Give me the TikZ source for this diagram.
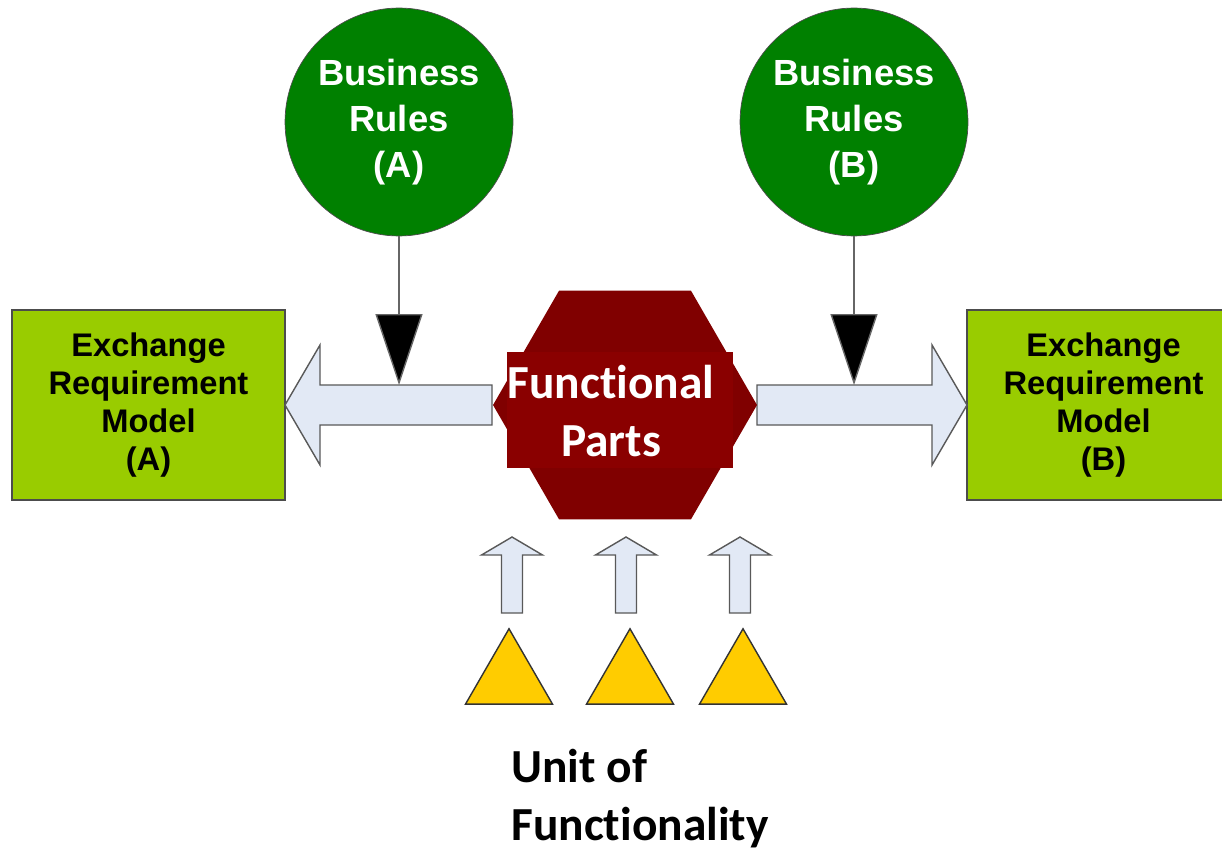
\documentclass[tikz,border=0pt]{standalone}
\usepackage{fontspec}
\setmainfont{Liberation Sans}
\newfontfamily\calibri[Ligatures=NoCommon]{Carlito}
\usetikzlibrary{shapes.geometric, arrows.meta, positioning}

\definecolor{rulegreen}{HTML}{008000}
\definecolor{ermgreen}{HTML}{99CC00}
\definecolor{fpred}{HTML}{800000}
\definecolor{fplabelred}{HTML}{8A0000}
\definecolor{arrowfill}{HTML}{E2E9F5}
\definecolor{unityellow}{HTML}{FFCC00}

\tikzset{
	rulecircle/.style={circle, draw=black!70, fill=rulegreen, text=white,
		font=\bfseries\fontsize{20.7}{26}\selectfont, align=center,
		minimum size=4.56cm, inner sep=0pt},
	ermbox/.style={rectangle, draw=black!70, line width=0.8pt, fill=ermgreen,
		font=\bfseries\fontsize{18.6}{21.5}\selectfont, align=center,
		minimum width=5.46cm, minimum height=3.8cm},
	fpart/.style={regular polygon, regular polygon sides=6, fill=fpred,
		minimum size=5.28cm, inner sep=0pt},
	fplabel/.style={rectangle, fill=fplabelred,
		minimum width=4.52cm, minimum height=2.32cm},
	fptext/.style={text=white, font=\calibri\bfseries\fontsize{27}{33}\selectfont,
		align=center, inner sep=0pt},
	unittri/.style={regular polygon, regular polygon sides=3, draw=black!80,
		line width=0.8pt, fill=unityellow, minimum size=2.01cm, inner sep=0pt},
	unitlabel/.style={font=\calibri\bfseries\fontsize{27}{33}\selectfont,
		align=left, inner sep=0pt},
	blockarrow/.style={draw=black!65, fill=arrowfill, line width=0.8pt},
	ruleline/.style={draw=black!60, line width=0.8pt,
		-{Triangle[length=1.42cm, width=0.94cm, fill=black]}},
}

\begin{document}
\begin{tikzpicture}[x=0.02cm, y=-0.02cm]
	\fill[white] (0,0) rectangle (1222,851);
	\useasboundingbox (0,0) rectangle (1222,851);
	\clip (0,0) rectangle (1222,851);

	% rules and models
	\node (rulesA) [rulecircle] at (399,122) {Business\\Rules\\(A)};
	\node (rulesB) [rulecircle] at (854,122) {Business\\Rules\\(B)};
	\node (ermA) [ermbox] at (148.5,405) {Exchange\\Requirement\\Model\\(A)};
	\node (ermB) [ermbox] at (1103.5,405) {Exchange\\Requirement\\Model\\(B)};

	% block arrows out of the functional parts
	\draw [blockarrow] (492,385) -- (320,385) -- (320,345) -- (285,405)
		-- (320,465) -- (320,425) -- (492,425) -- cycle;
	\draw [blockarrow] (757,385) -- (932,385) -- (932,345) -- (967,405)
		-- (932,465) -- (932,425) -- (757,425) -- cycle;

	\node (parts) [fpart] at (625,405) {};
	\node (partslabel) [fplabel] at (620,410) {};
	\node (partstext) [fptext] at (611,411) {Functional\\Parts};

	\coordinate (hitA) at (399,385);
	\coordinate (hitB) at (854,385);
	\draw [ruleline] (rulesA) -- (hitA);
	\draw [ruleline] (rulesB) -- (hitB);

	% units of functionality
	\foreach \x in {512,626,740}
		\draw [blockarrow] (\x-10.5,613) -- (\x+10.5,613) -- (\x+10.5,555)
			-- (\x+30.5,555) -- (\x,537) -- (\x-30.5,555) -- (\x-10.5,555) -- cycle;
	\foreach \x/\n in {509/1,630/2,743/3}
		\node (unit\n) [unittri] at (\x,679) {};

	\node (unitlbl) [unitlabel, anchor=north west] at (511,749)
		{Unit of\\Functionality};
\end{tikzpicture}
\end{document}
